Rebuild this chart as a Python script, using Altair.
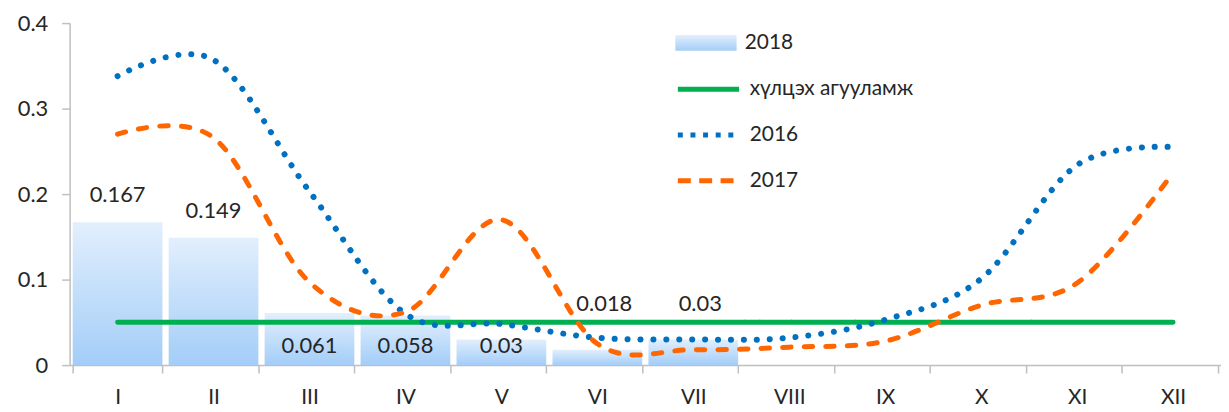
import altair as alt
import pandas as pd

months = ["I", "II", "III", "IV", "V", "VI", "VII", "VIII", "IX", "X", "XI", "XII"]
s2016 = [0.338, 0.357, 0.203, 0.060, 0.048, 0.032, 0.030, 0.032, 0.053, 0.101, 0.234, 0.255]
s2017 = [0.270, 0.266, 0.097, 0.062, 0.170, 0.025, 0.018, 0.021, 0.028, 0.070, 0.096, 0.225]
limit = [0.05] * 12
s2018 = [0.167, 0.149, 0.061, 0.058, 0.030, 0.018, 0.030]
line_names = ["хүлцэх агууламж", "2016", "2017"]
line_colors = ["#00B050", "#0070C0", "#FF6600"]
line_widths = [5, 6, 5]
line_dashes = [[1, 0], [0.1, 12.9], [8.5, 13.2]]          # drawn with round caps
legend_dashes = [[1, 0], [5, 7.7], [13, 8.5]]              # legend symbols use butt caps

FONT = "Lato"
TXT = "#262626"
GREY = "#BFBFBF"

line_rows = []
for name, vals in zip(line_names, [limit, s2016, s2017]):
    for m, v in zip(months, vals):
        line_rows.append({"month": m, "series": name, "value": v})
line_df = pd.DataFrame(line_rows)

bar_df = pd.DataFrame({"month": months[:len(s2018)], "value": s2018})
bar_df["series"] = "2018"
places = []
for i, v in enumerate(s2018):
    if v >= 0.1:
        places.append("above")
    elif i < 5:
        places.append("inside")
    else:
        places.append("over")
bar_df["place"] = places
bar_df["base"] = 0.0
bar_df["lim"] = limit[:len(s2018)]

bar_grad = alt.Gradient(
    gradient="linear", x1=0, y1=0, x2=0, y2=1,
    stops=[alt.GradientStop(color="#E2EFFD", offset=0), alt.GradientStop(color="#A3CDF8", offset=1)],
)

xscale = alt.Scale(domain=months, paddingInner=0.065, paddingOuter=0.032)
yscale = alt.Scale(domain=[0, 0.4])

xaxis = alt.Axis(title=None, labelAngle=0, labelFontSize=21, labelFont=FONT, labelColor=TXT,
                 labelPadding=14, tickSize=8, tickColor=GREY, domainColor=GREY, domainWidth=1.5,
                 tickWidth=1.5, tickBand="extent", grid=False)
yaxis = alt.Axis(title=None, values=[0, 0.1, 0.2, 0.3, 0.4], format=".1~f", labelFontSize=22,
                 labelFont=FONT, labelColor=TXT, labelPadding=14, tickSize=8, tickColor=GREY,
                 domainColor=GREY, domainWidth=1.5, tickWidth=1.5, grid=False)

bar_legend = alt.Legend(
    title=None, orient="none", legendX=629, legendY=9, symbolSize=484, labelOffset=28,
    padding=0, labelFontSize=21, labelFont=FONT, labelColor=TXT, labelLimit=400,
    symbolType="M-2.8,-0.72H2.8V0.72H-2.8Z", symbolStrokeWidth=0,
)
line_legend = alt.Legend(
    title=None, orient="none", legendX=629, legendY=53, symbolSize=484, labelOffset=28,
    rowPadding=22, padding=0, labelFontSize=21, labelFont=FONT, labelColor=TXT, labelLimit=400,
    symbolType="M-2.8,0H2.8", symbolStrokeWidth=5,
)

x_enc = alt.X("month:N", sort=months, scale=xscale, axis=xaxis, title=None)
y_enc = alt.Y("value:Q", scale=yscale, axis=yaxis, title=None)

bars = alt.Chart(bar_df).mark_bar(color=bar_grad).encode(
    x=x_enc, y=y_enc,
    opacity=alt.Opacity("series:N", scale=alt.Scale(domain=["2018"], range=[1]), legend=bar_legend),
)

# legend carrier (no rows drawn): defines the merged colour + dash legend for the lines
legend_carrier = alt.Chart(line_df).transform_filter("false").mark_line(strokeWidth=5).encode(
    x=x_enc, y=y_enc,
    color=alt.Color("series:N", sort=line_names,
                    scale=alt.Scale(domain=line_names, range=line_colors), legend=line_legend),
    strokeDash=alt.StrokeDash("series:N", sort=line_names,
                              scale=alt.Scale(domain=line_names, range=legend_dashes), legend=line_legend),
)

line_layers = []
for name, col, w, dash in zip(line_names, line_colors, line_widths, line_dashes):
    line_layers.append(
        alt.Chart(line_df).transform_filter(alt.datum.series == name).mark_line(
            interpolate="cardinal", strokeWidth=w, strokeCap="round", color=col, strokeDash=dash
        ).encode(x=x_enc, y=y_enc)
    )


def label_layer(place, yfield, dy, dx=0):
    return alt.Chart(bar_df).transform_filter(alt.datum.place == place).mark_text(
        font=FONT, fontSize=22, color=TXT, baseline="alphabetic", dy=dy, dx=dx
    ).encode(
        x=x_enc,
        y=alt.Y(yfield + ":Q", scale=yscale, axis=yaxis, title=None),
        text=alt.Text("value:Q", format=".3~f"),
    )


chart = alt.layer(
    bars, legend_carrier, *line_layers,
    label_layer("above", "value", -20),
    label_layer("inside", "base", -12),
    label_layer("over", "lim", -11, 7),
).properties(
    width=1158, height=344,
    padding={"left": 62, "top": 14, "right": 0, "bottom": 44},
    autosize=alt.AutoSizeParams(type="none"),
).configure_view(stroke=None)

chart.save("out.html", embed_options={"renderer": "svg", "actions": False})
